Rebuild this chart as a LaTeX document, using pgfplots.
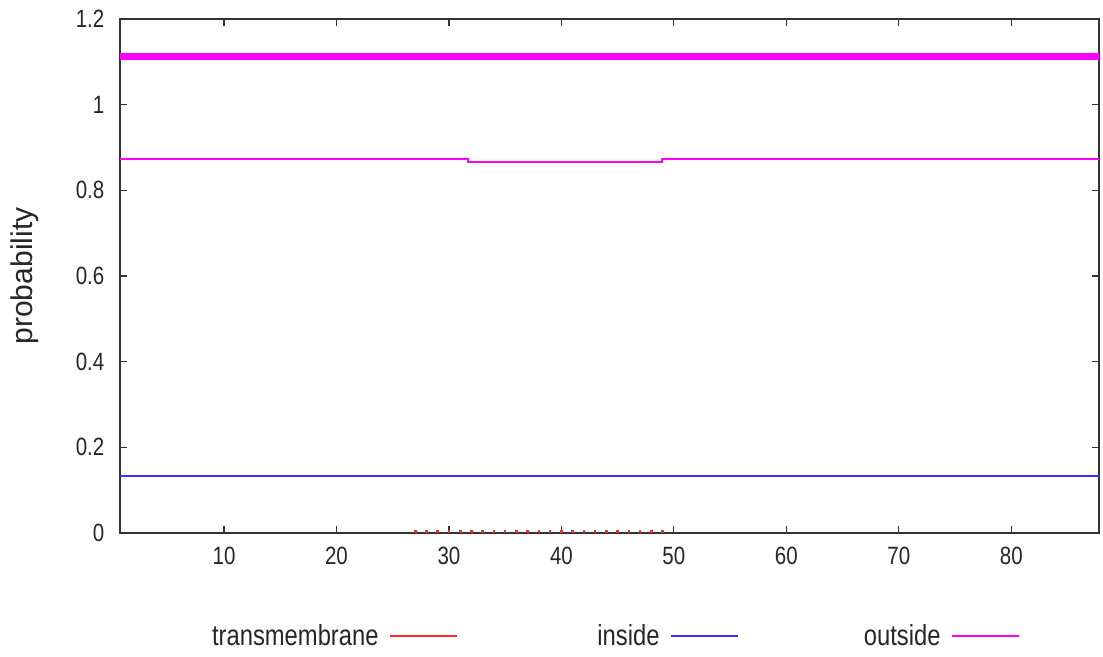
\documentclass[border=0pt]{standalone}
\usepackage{pgfplots}
\pgfplotsset{compat=1.18}
\usepackage{fontspec}
\setmainfont{Liberation Sans}[FakeStretch=0.82]
\newfontfamily\ylfont{Liberation Sans}
\definecolor{tmred}{RGB}{255,40,40}
\definecolor{inblue}{RGB}{50,50,255}
\definecolor{outmag}{RGB}{255,0,255}
\begin{document}
\begin{tikzpicture}
\begin{axis}[name=ax, scale only axis, width=489.5pt, height=257pt,
  xmin=0.75, xmax=87.8, ymin=0, ymax=1.2,
  xtick={10,20,30,40,50,60,70,80},
  ytick={0,0.2,0.4,0.6,0.8,1,1.2},
  /pgf/number format/assume math mode=true,
  ticklabel style={font=\fontsize{12.5}{14}\selectfont, text=black!85},
  yticklabel style={xshift=-4.3pt},
  xticklabel style={yshift=-3.5pt},
  major tick length=3.5pt,
  tick style={black!80, line width=0.6pt},
  axis line style={black!80, line width=0.9pt},
  ylabel={\ylfont\fontsize{15}{17}\selectfont probability},
  ylabel style={at={(axis description cs:-0.097,0.5)}, anchor=center, text=black!85},
  legend columns=3,
  legend plot pos=right,
  legend cell align=right,
  legend image code/.code={\draw[#1] (0pt,0pt) -- (33.5pt,0pt);},
  legend style={draw=none, fill=none, inner sep=0pt, column sep=5pt,
    nodes={inner sep=0pt, font=\fontsize{14.5}{16}\selectfont, text=black!85},
    at={(axis description cs:0.9193,-0.2004)}, anchor=east},
]
\addlegendimage{tmred, line width=1pt}
\addlegendentry{\makebox[96pt][r]{transmembrane}}
\addlegendimage{inblue, line width=1pt}
\addlegendentry{\makebox[96pt][r]{inside}}
\addlegendimage{outmag, line width=1pt}
\addlegendentry{\makebox[96pt][r]{outside}}

\addplot[forget plot, outmag, line width=3.5pt] coordinates {(0,1.112) (90,1.112)};
\addplot[forget plot, const plot, outmag, line width=1pt] coordinates {
  (0,0.872) (31.7,0.866) (48.9,0.872) (90,0.872)};
\addplot[forget plot, inblue, line width=1pt] coordinates {(0,0.134) (90,0.134)};
\addplot[forget plot, ycomb, tmred, line width=1.3pt] coordinates {
  (27,0.006) (28,0.006) (29,0.006) (30,0.006) (31,0.006) (32,0.006)
  (33,0.006) (34,0.006) (35,0.006) (36,0.006) (37,0.006) (38,0.006)
  (39,0.006) (40,0.006) (41,0.006) (42,0.006) (43,0.006) (44,0.006)
  (45,0.006) (46,0.006) (47,0.006) (48,0.006) (49,0.006)};
\end{axis}
\pgfresetboundingbox
\path[use as bounding box] ([xshift=-60pt,yshift=-62pt]ax.south west) rectangle ([xshift=2pt,yshift=9.5pt]ax.north east);
\end{tikzpicture}
\end{document}
